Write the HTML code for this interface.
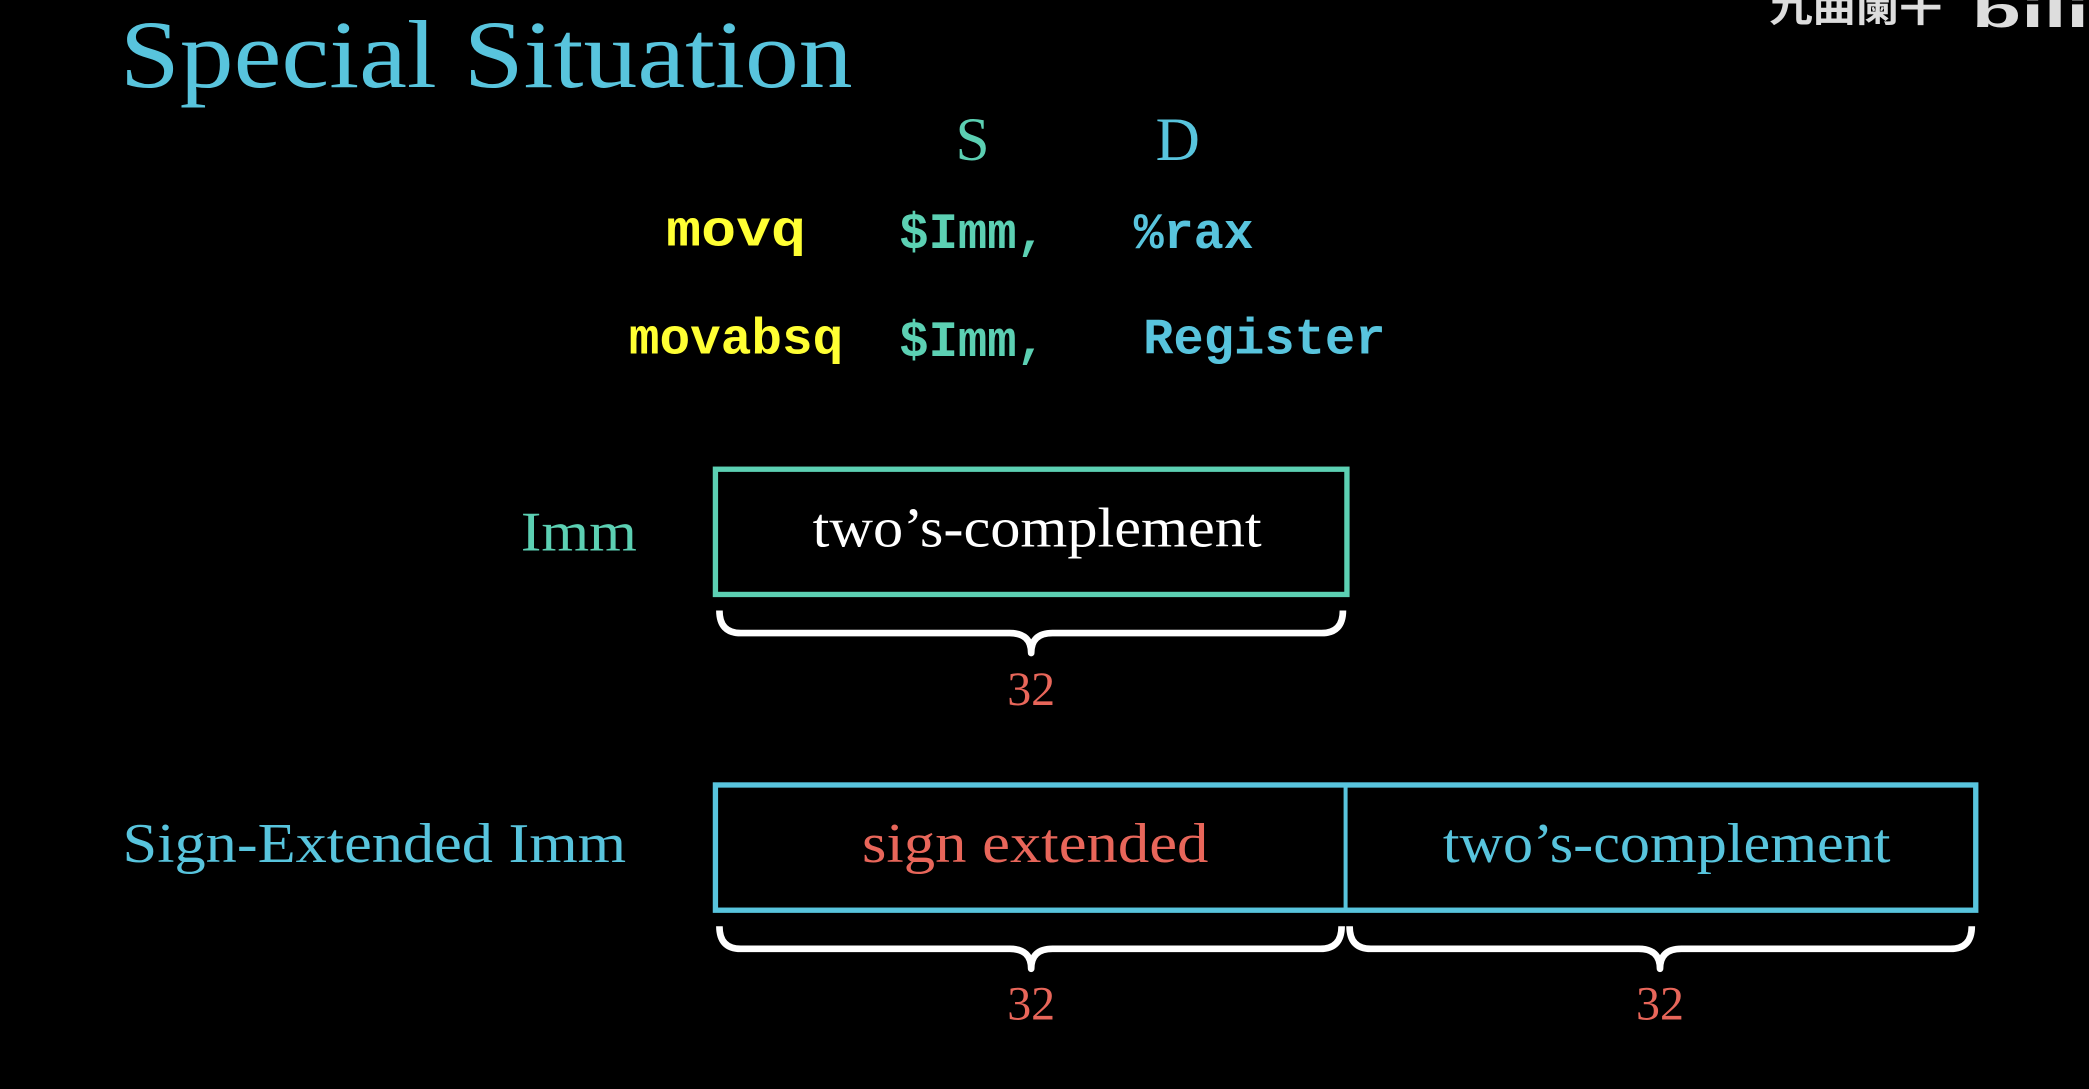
<!DOCTYPE html>
<html><head><meta charset="utf-8"><style>html,body{margin:0;padding:0;background:#000;overflow:hidden}svg{display:block}</style></head>
<body>
<svg width="2089" height="1089" viewBox="0 0 1568 817" xmlns="http://www.w3.org/2000/svg">
<rect width="1568" height="817" fill="#000"/>
<g font-family="'Liberation Serif', serif">
<text x="90" y="65" font-size="72" fill="#58C4DD" textLength="550" lengthAdjust="spacingAndGlyphs">Special Situation</text>
<text x="730" y="120" font-size="46" fill="#5CD0B3" text-anchor="middle">S</text>
<text x="884" y="120" font-size="46" fill="#58C4DD" text-anchor="middle">D</text>
</g>
<g font-family="'Liberation Mono', monospace" font-size="38" font-weight="bold">
<text x="500" y="184" fill="#FFFF33" textLength="105" lengthAdjust="spacingAndGlyphs">movq</text>
<text x="675" y="186" fill="#5CD0B3" textLength="110" lengthAdjust="spacingAndGlyphs">$Imm,</text>
<text x="851" y="186" fill="#58C4DD" textLength="90" lengthAdjust="spacingAndGlyphs">%rax</text>
<text x="472" y="265" fill="#FFFF33" textLength="161" lengthAdjust="spacingAndGlyphs">movabsq</text>
<text x="675" y="267" fill="#5CD0B3" textLength="110" lengthAdjust="spacingAndGlyphs">$Imm,</text>
<text x="858" y="265" fill="#58C4DD" textLength="182" lengthAdjust="spacingAndGlyphs">Register</text>
</g>
<g font-family="'Liberation Serif', serif" font-size="42">
<text x="391" y="413" fill="#5CD0B3" textLength="87" lengthAdjust="spacingAndGlyphs">Imm</text>
<rect x="537" y="352" width="474" height="94" fill="none" stroke="#5CD0B3" stroke-width="4"/>
<text x="610" y="410" fill="#fff" textLength="337" lengthAdjust="spacingAndGlyphs">two’s-complement</text>
<text x="774" y="529" fill="#E8665A" font-size="36" text-anchor="middle">32</text>
<text x="92" y="647" fill="#58C4DD" textLength="378" lengthAdjust="spacingAndGlyphs">Sign-Extended Imm</text>
<rect x="537" y="589" width="946" height="94" fill="none" stroke="#58C4DD" stroke-width="4"/>
<line x1="1010" y1="589" x2="1010" y2="683" stroke="#58C4DD" stroke-width="3"/>
<text x="647" y="647" fill="#E8665A" textLength="260" lengthAdjust="spacingAndGlyphs">sign extended</text>
<text x="1083" y="647" fill="#58C4DD" textLength="336" lengthAdjust="spacingAndGlyphs">two’s-complement</text>
<text x="774" y="765" fill="#E8665A" font-size="36" text-anchor="middle">32</text>
<text x="1246" y="765" fill="#E8665A" font-size="36" text-anchor="middle">32</text>
</g>
<g fill="none" stroke="#fff" stroke-width="5" stroke-linejoin="round">
<path d="M540,458 Q540,475 556,475 L758,475 Q774,475 774,490 Q774,475 790,475 L992,475 Q1008,475 1008,458"/>
<path d="M540,695 Q540,712 556,712 L758,712 Q774,712 774,727 Q774,712 790,712 L991,712 Q1007,712 1007,695"/>
<path d="M1013,695 Q1013,712 1029,712 L1230,712 Q1246,712 1246,727 Q1246,712 1262,712 L1464,712 Q1480,712 1480,695"/>
</g>
<text x="1328" y="16" font-family="'Noto Sans CJK SC', sans-serif" font-weight="bold" font-size="28" fill="#ddd" textLength="130" lengthAdjust="spacingAndGlyphs">九曲阑干</text>
<text x="1480" y="20" font-family="'Liberation Sans', sans-serif" font-weight="bold" font-size="32" fill="#ddd" textLength="88" lengthAdjust="spacingAndGlyphs">bili</text>
</svg>
</body></html>
